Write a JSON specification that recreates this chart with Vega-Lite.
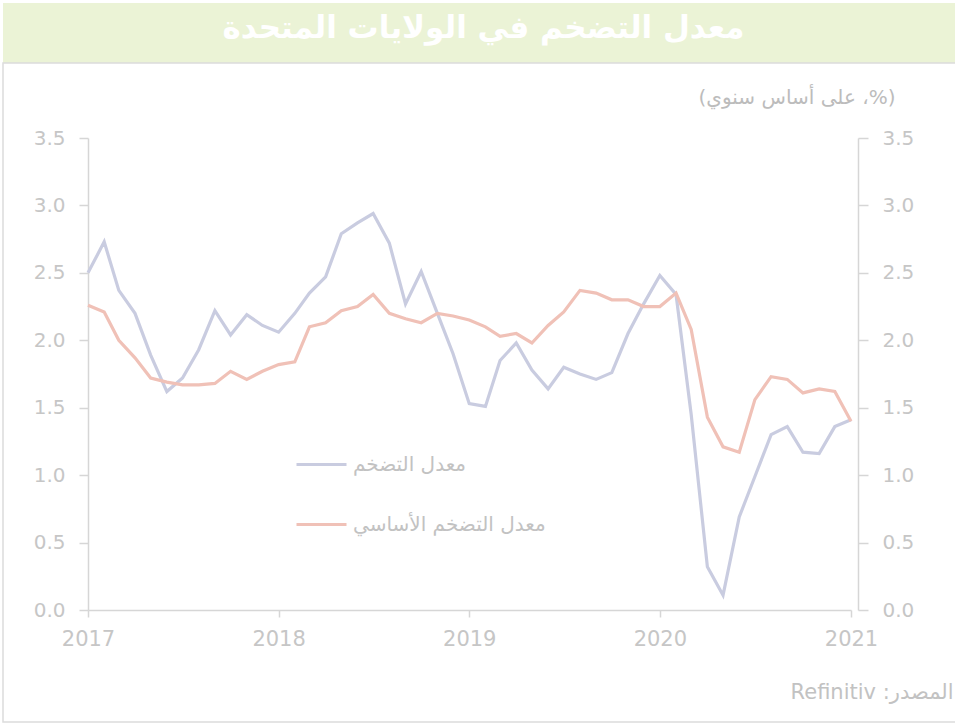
{
  "$schema": "https://vega.github.io/schema/vega-lite/v6.json",
  "width": 763,
  "height": 472,
  "autosize": {"type": "none"},
  "padding": {"left": 88, "top": 138, "right": 104, "bottom": 115},
  "background": "white",
  "config": {
    "view": {"stroke": null},
    "font": "DejaVu Sans",
    "axis": {
      "grid": false,
      "labelFont": "DejaVu Sans",
      "labelColor": "#c6c6c6",
      "domainColor": "#d6d6d6",
      "tickColor": "#d6d6d6",
      "domainWidth": 1.5,
      "tickWidth": 1.5
    }
  },
  "title": {
    "text": "معدل التضخم في الولايات المتحدة",
    "color": "white",
    "fontSize": 31,
    "fontWeight": "bold",
    "font": "DejaVu Sans",
    "anchor": "middle",
    "frame": "group",
    "dx": 14,
    "offset": 0,
    "dy": 42
  },
  "datasets": {
    "series": [
      {"date": "2017-01-01", "series": "معدل التضخم", "value": 2.50},
      {"date": "2017-02-01", "series": "معدل التضخم", "value": 2.73},
      {"date": "2017-03-01", "series": "معدل التضخم", "value": 2.37},
      {"date": "2017-04-01", "series": "معدل التضخم", "value": 2.20},
      {"date": "2017-05-01", "series": "معدل التضخم", "value": 1.89},
      {"date": "2017-06-01", "series": "معدل التضخم", "value": 1.62},
      {"date": "2017-07-01", "series": "معدل التضخم", "value": 1.72},
      {"date": "2017-08-01", "series": "معدل التضخم", "value": 1.93},
      {"date": "2017-09-01", "series": "معدل التضخم", "value": 2.22},
      {"date": "2017-10-01", "series": "معدل التضخم", "value": 2.04},
      {"date": "2017-11-01", "series": "معدل التضخم", "value": 2.19},
      {"date": "2017-12-01", "series": "معدل التضخم", "value": 2.11},
      {"date": "2018-01-01", "series": "معدل التضخم", "value": 2.06},
      {"date": "2018-02-01", "series": "معدل التضخم", "value": 2.20},
      {"date": "2018-03-01", "series": "معدل التضخم", "value": 2.35},
      {"date": "2018-04-01", "series": "معدل التضخم", "value": 2.47},
      {"date": "2018-05-01", "series": "معدل التضخم", "value": 2.79},
      {"date": "2018-06-01", "series": "معدل التضخم", "value": 2.87},
      {"date": "2018-07-01", "series": "معدل التضخم", "value": 2.94},
      {"date": "2018-08-01", "series": "معدل التضخم", "value": 2.72},
      {"date": "2018-09-01", "series": "معدل التضخم", "value": 2.27},
      {"date": "2018-10-01", "series": "معدل التضخم", "value": 2.51},
      {"date": "2018-11-01", "series": "معدل التضخم", "value": 2.20},
      {"date": "2018-12-01", "series": "معدل التضخم", "value": 1.90},
      {"date": "2019-01-01", "series": "معدل التضخم", "value": 1.53},
      {"date": "2019-02-01", "series": "معدل التضخم", "value": 1.51},
      {"date": "2019-03-01", "series": "معدل التضخم", "value": 1.85},
      {"date": "2019-04-01", "series": "معدل التضخم", "value": 1.98},
      {"date": "2019-05-01", "series": "معدل التضخم", "value": 1.78},
      {"date": "2019-06-01", "series": "معدل التضخم", "value": 1.64},
      {"date": "2019-07-01", "series": "معدل التضخم", "value": 1.80},
      {"date": "2019-08-01", "series": "معدل التضخم", "value": 1.75},
      {"date": "2019-09-01", "series": "معدل التضخم", "value": 1.71},
      {"date": "2019-10-01", "series": "معدل التضخم", "value": 1.76},
      {"date": "2019-11-01", "series": "معدل التضخم", "value": 2.05},
      {"date": "2019-12-01", "series": "معدل التضخم", "value": 2.27},
      {"date": "2020-01-01", "series": "معدل التضخم", "value": 2.48},
      {"date": "2020-02-01", "series": "معدل التضخم", "value": 2.34},
      {"date": "2020-03-01", "series": "معدل التضخم", "value": 1.45},
      {"date": "2020-04-01", "series": "معدل التضخم", "value": 0.32},
      {"date": "2020-05-01", "series": "معدل التضخم", "value": 0.11},
      {"date": "2020-06-01", "series": "معدل التضخم", "value": 0.69},
      {"date": "2020-07-01", "series": "معدل التضخم", "value": 0.99},
      {"date": "2020-08-01", "series": "معدل التضخم", "value": 1.30},
      {"date": "2020-09-01", "series": "معدل التضخم", "value": 1.36},
      {"date": "2020-10-01", "series": "معدل التضخم", "value": 1.17},
      {"date": "2020-11-01", "series": "معدل التضخم", "value": 1.16},
      {"date": "2020-12-01", "series": "معدل التضخم", "value": 1.36},
      {"date": "2021-01-01", "series": "معدل التضخم", "value": 1.41},
      {"date": "2017-01-01", "series": "معدل التضخم الأساسي", "value": 2.26},
      {"date": "2017-02-01", "series": "معدل التضخم الأساسي", "value": 2.21},
      {"date": "2017-03-01", "series": "معدل التضخم الأساسي", "value": 2.00},
      {"date": "2017-04-01", "series": "معدل التضخم الأساسي", "value": 1.87},
      {"date": "2017-05-01", "series": "معدل التضخم الأساسي", "value": 1.72},
      {"date": "2017-06-01", "series": "معدل التضخم الأساسي", "value": 1.69},
      {"date": "2017-07-01", "series": "معدل التضخم الأساسي", "value": 1.67},
      {"date": "2017-08-01", "series": "معدل التضخم الأساسي", "value": 1.67},
      {"date": "2017-09-01", "series": "معدل التضخم الأساسي", "value": 1.68},
      {"date": "2017-10-01", "series": "معدل التضخم الأساسي", "value": 1.77},
      {"date": "2017-11-01", "series": "معدل التضخم الأساسي", "value": 1.71},
      {"date": "2017-12-01", "series": "معدل التضخم الأساسي", "value": 1.77},
      {"date": "2018-01-01", "series": "معدل التضخم الأساسي", "value": 1.82},
      {"date": "2018-02-01", "series": "معدل التضخم الأساسي", "value": 1.84},
      {"date": "2018-03-01", "series": "معدل التضخم الأساسي", "value": 2.10},
      {"date": "2018-04-01", "series": "معدل التضخم الأساسي", "value": 2.13},
      {"date": "2018-05-01", "series": "معدل التضخم الأساسي", "value": 2.22},
      {"date": "2018-06-01", "series": "معدل التضخم الأساسي", "value": 2.25},
      {"date": "2018-07-01", "series": "معدل التضخم الأساسي", "value": 2.34},
      {"date": "2018-08-01", "series": "معدل التضخم الأساسي", "value": 2.20},
      {"date": "2018-09-01", "series": "معدل التضخم الأساسي", "value": 2.16},
      {"date": "2018-10-01", "series": "معدل التضخم الأساسي", "value": 2.13},
      {"date": "2018-11-01", "series": "معدل التضخم الأساسي", "value": 2.20},
      {"date": "2018-12-01", "series": "معدل التضخم الأساسي", "value": 2.18},
      {"date": "2019-01-01", "series": "معدل التضخم الأساسي", "value": 2.15},
      {"date": "2019-02-01", "series": "معدل التضخم الأساسي", "value": 2.10},
      {"date": "2019-03-01", "series": "معدل التضخم الأساسي", "value": 2.03},
      {"date": "2019-04-01", "series": "معدل التضخم الأساسي", "value": 2.05},
      {"date": "2019-05-01", "series": "معدل التضخم الأساسي", "value": 1.98},
      {"date": "2019-06-01", "series": "معدل التضخم الأساسي", "value": 2.11},
      {"date": "2019-07-01", "series": "معدل التضخم الأساسي", "value": 2.21},
      {"date": "2019-08-01", "series": "معدل التضخم الأساسي", "value": 2.37},
      {"date": "2019-09-01", "series": "معدل التضخم الأساسي", "value": 2.35},
      {"date": "2019-10-01", "series": "معدل التضخم الأساسي", "value": 2.30},
      {"date": "2019-11-01", "series": "معدل التضخم الأساسي", "value": 2.30},
      {"date": "2019-12-01", "series": "معدل التضخم الأساسي", "value": 2.25},
      {"date": "2020-01-01", "series": "معدل التضخم الأساسي", "value": 2.25},
      {"date": "2020-02-01", "series": "معدل التضخم الأساسي", "value": 2.35},
      {"date": "2020-03-01", "series": "معدل التضخم الأساسي", "value": 2.08},
      {"date": "2020-04-01", "series": "معدل التضخم الأساسي", "value": 1.43},
      {"date": "2020-05-01", "series": "معدل التضخم الأساسي", "value": 1.21},
      {"date": "2020-06-01", "series": "معدل التضخم الأساسي", "value": 1.17},
      {"date": "2020-07-01", "series": "معدل التضخم الأساسي", "value": 1.56},
      {"date": "2020-08-01", "series": "معدل التضخم الأساسي", "value": 1.73},
      {"date": "2020-09-01", "series": "معدل التضخم الأساسي", "value": 1.71},
      {"date": "2020-10-01", "series": "معدل التضخم الأساسي", "value": 1.61},
      {"date": "2020-11-01", "series": "معدل التضخم الأساسي", "value": 1.64},
      {"date": "2020-12-01", "series": "معدل التضخم الأساسي", "value": 1.62},
      {"date": "2021-01-01", "series": "معدل التضخم الأساسي", "value": 1.40}
    ]
  },
  "layer": [
    {
      "data": {"values": [{}]},
      "mark": {"type": "rect", "color": "#ebf3d6"},
      "encoding": {
        "x": {"value": -85},
        "x2": {"value": 870},
        "y": {"value": -135},
        "y2": {"value": -75}
      }
    },
    {
      "data": {"values": [{}]},
      "mark": {"type": "rect", "fill": null, "fillOpacity": 0, "stroke": "#dcdcdc", "strokeWidth": 1.5},
      "encoding": {
        "x": {"value": -85},
        "x2": {"value": 870},
        "y": {"value": -75},
        "y2": {"value": 584}
      }
    },
    {
      "data": {"name": "series"},
      "mark": {"type": "line", "strokeWidth": 3, "opacity": 0},
      "encoding": {
        "x": {
          "field": "date", "type": "temporal",
          "scale": {"type": "utc", "nice": false},
          "axis": {
            "format": "%Y", "formatType": "utc",
            "tickCount": {"interval": "year", "step": 1},
            "labelFlush": false,
            "labelFontSize": 21, "tickSize": 7, "labelPadding": 11,
            "labelColor": "#c6c6c6",
            "title": "Refinitiv :المصدر",
            "titleX": 865, "titleY": 82, "titleAlign": "right", "titleBaseline": "middle",
            "titleFontSize": 21, "titleFontWeight": "normal", "titleColor": "#c2c2c2",
            "titleFont": "DejaVu Sans"
          }
        },
        "y": {
          "field": "value", "type": "quantitative",
          "scale": {"domain": [0, 3.5], "nice": false},
          "axis": {
            "orient": "left", "values": [0, 0.5, 1, 1.5, 2, 2.5, 3, 3.5], "format": ".1f",
            "labelFontSize": 20, "tickSize": 9, "labelPadding": 14, "title": null
          }
        },
        "detail": {"field": "series"}
      }
    },
    {
      "data": {"name": "series"},
      "mark": {"type": "line", "strokeWidth": 3.2},
      "encoding": {
        "x": {"field": "date", "type": "temporal"},
        "y": {
          "field": "value", "type": "quantitative",
          "axis": {
            "orient": "right", "offset": 7, "values": [0, 0.5, 1, 1.5, 2, 2.5, 3, 3.5], "format": ".1f",
            "labelFontSize": 20, "tickSize": 10, "labelPadding": 14,
            "title": "(على أساس سنوي ،%)",
            "titleAngle": 0, "titleX": 37, "titleY": -41, "titleAlign": "right", "titleBaseline": "middle",
            "titleFontSize": 20, "titleFontWeight": "normal", "titleColor": "#bcbcbc",
            "titleFont": "DejaVu Sans"
          }
        },
        "color": {
          "field": "series", "type": "nominal",
          "scale": {"domain": ["معدل التضخم", "معدل التضخم الأساسي"], "range": ["#c9cce0", "#f0c1b7"]},
          "legend": {
            "title": null, "orient": "none", "legendX": 207, "legendY": 300,
            "direction": "vertical", "symbolType": "stroke", "symbolSize": 2500,
            "symbolStrokeWidth": 3, "labelFontSize": 20, "labelColor": "#c2c2c2",
            "labelFont": "DejaVu Sans", "labelOffset": 5, "rowPadding": 23, "labelLimit": 400
          }
        }
      }
    }
  ],
  "resolve": {"scale": {"y": "shared"}, "axis": {"y": "independent"}}
}
